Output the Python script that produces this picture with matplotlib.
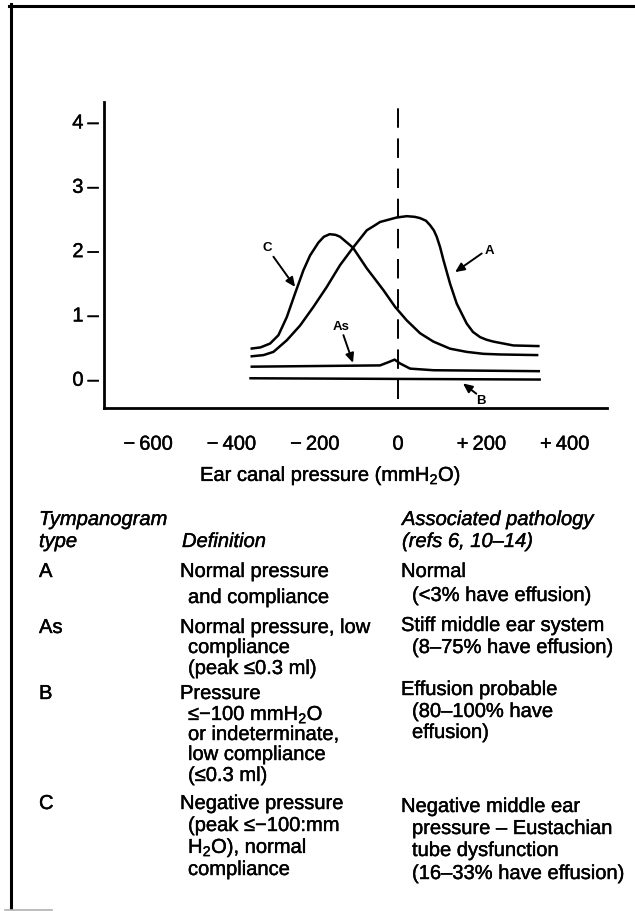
import numpy as np
import matplotlib.pyplot as plt
import matplotlib.patheffects as pe
from matplotlib.lines import Line2D

plt.rcParams['font.family'] = ['Liberation Sans', 'DejaVu Sans']
plt.rcParams['mathtext.fontset'] = 'custom'
plt.rcParams['mathtext.rm'] = 'Liberation Sans'
plt.rcParams['mathtext.it'] = 'Liberation Sans:italic'

W, H = 635, 911

# tympanogram curves: pressure (mmH2O), compliance (ml)
a_p = [-354, -323, -299, -267, -235, -203, -171, -139, -108, -75, -55, -43, -20, -3, 21, 40, 53, 67,
       77, 86, 93, 101, 109, 125, 141, 165, 180, 197, 212, 229, 277, 340]
a_c = [0.34, 0.36, 0.41, 0.59, 0.82, 1.11, 1.42, 1.76, 2.03, 2.30, 2.38, 2.43, 2.47, 2.50, 2.52, 2.51, 2.49, 2.45,
       2.38, 2.30, 2.20, 2.04, 1.84, 1.47, 1.16, 0.85, 0.72, 0.64, 0.60, 0.57, 0.51, 0.50]

c_p = [-354, -330, -307, -287, -267, -247, -227, -211, -191, -178, -164, -150, -139, -108, -75, -35, -7,
       21, 53, 85, 125, 165, 205, 245, 337]
c_c = [0.46, 0.48, 0.54, 0.67, 0.95, 1.32, 1.68, 1.91, 2.11, 2.20, 2.24, 2.23, 2.20, 2.03, 1.71, 1.37, 1.11,
       0.90, 0.70, 0.57, 0.46, 0.41, 0.38, 0.37, 0.36]

as_p = [-354, -200, -43, -23, -8, 5, 29, 85, 341]
as_c = [0.18, 0.19, 0.20, 0.25, 0.29, 0.23, 0.15, 0.125, 0.11]

b_p = [-357, 343]
b_c = [0.0, -0.02]

x_ticks = [-600, -400, -200, 0, 200, 400]
x_ticklabels = ['\u2212\u2009600', '\u2212\u2009400', '\u2212\u2009200', '0', '+\u2009200', '+\u2009400']
y_ticks = [0, 1, 2, 3, 4]
y_ticklabels = ['0\u2009\u2013', '1\u2009\u2013', '2\u2009\u2013', '3\u2009\u2013', '4\u2009\u2013']

# curve labels: (text, label pos, arrow tail, arrow head) in data units
curve_labels = [
    ('C', (-315, 2.02), (-299, 1.89), (-247, 1.42)),
    ('A', (219, 1.98), (201, 1.94), (137, 1.65)),
    ('As', (-137, 0.80), (-131, 0.67), (-108, 0.24)),
    ('B', (199, -0.35), (188, -0.24), (156, -0.08)),
]

# table
tymp_types = ['A', 'As', 'B', 'C']
definitions = [
    ['Normal pressure', 'and compliance'],
    ['Normal pressure, low', 'compliance', '(peak \u22640.3 ml)'],
    ['Pressure', '\u2264\u2212100 mmH$_2$O', 'or indeterminate,', 'low compliance', '(\u22640.3 ml)'],
    ['Negative pressure', '(peak \u2264\u2212100:mm', 'H$_2$O), normal', 'compliance'],
]
pathology = [
    ['Normal', '(<3% have effusion)'],
    ['Stiff middle ear system', '(8\u201375% have effusion)'],
    ['Effusion probable', '(80\u2013100% have', 'effusion)'],
    ['Negative middle ear', 'pressure \u2013 Eustachian', 'tube dysfunction', '(16\u201333% have effusion)'],
]

# baselines (pixels from top) for each table line
def_rows = [[577, 603], [633, 653, 674], [699, 720, 740, 760, 781], [809, 831, 853, 875]]
path_rows = [[577, 601], [631, 653], [695, 717, 738], [812, 834, 856, 879]]

ink = [pe.withStroke(linewidth=0.3, foreground='black')]

fig = plt.figure(figsize=(W / 100, H / 100), dpi=100)
ax = fig.add_axes([104.3 / W, 1 - 408.3 / H, 502.4 / W, 306.6 / H])

lw = 1.8
for px_, cy_ in [(a_p, a_c), (c_p, c_c), (as_p, as_c), (b_p, b_c)]:
    ax.plot(px_, cy_, color='black', lw=lw, solid_capstyle='butt', solid_joinstyle='round')

ax.set_xlim(-705, 501)
ax.set_ylim(-0.467, 4.30)
ylo, yhi = ax.get_ylim()
ax.axvline(0, ymin=(-0.316 - ylo) / (yhi - ylo), ymax=1, color='black', lw=1.4, dashes=(10, 5.5))

for txt, lp, tail, head in curve_labels:
    ax.annotate('', xy=head, xytext=tail,
                arrowprops=dict(arrowstyle='-|>,head_length=0.55,head_width=0.25', lw=1.4,
                                color='black', shrinkA=0, shrinkB=0, mutation_scale=10))
    ax.text(lp[0], lp[1], txt, fontsize=9.5, fontweight='bold', ha='center', va='center')

for s in ['top', 'right']:
    ax.spines[s].set_visible(False)
for s in ['left', 'bottom']:
    ax.spines[s].set_linewidth(2.0)

ax.set_xticks(x_ticks)
ax.set_xticklabels(x_ticklabels, fontsize=14.5)
ax.set_yticks(y_ticks)
ax.set_yticklabels(y_ticklabels, fontsize=14.5)
ax.tick_params(axis='x', length=0, pad=19)
ax.tick_params(axis='y', length=0, pad=4)
for lab in ax.get_xticklabels() + ax.get_yticklabels():
    lab.set_path_effects(ink)


def ftext(x, y, s, **kw):
    fig.text(x / W, 1 - y / H, s, va='baseline', ha='left', fontsize=14.5, path_effects=ink, **kw)


ftext(200, 481, 'Ear canal pressure (mmH$_2$O)')

ftext(39, 525, 'Tympanogram', style='italic')
ftext(39, 547, 'type', style='italic')
ftext(182, 547, 'Definition', style='italic')
ftext(402, 525, 'Associated pathology', style='italic')
ftext(402, 547, '(refs 6, 10\u201314)', style='italic')

for i, t in enumerate(tymp_types):
    ftext(39, def_rows[i][0], t)
    for j, line in enumerate(definitions[i]):
        ftext(180 if j == 0 else 188, def_rows[i][j], line)
    for j, line in enumerate(pathology[i]):
        ftext(401 if j == 0 else 412, path_rows[i][j], line)

# page frame
fig.add_artist(Line2D([9 / W, 1], [1 - 5.5 / H] * 2, color='black', lw=2.2))
fig.add_artist(Line2D([10.5 / W] * 2, [1 - 4 / H, 1 - 908 / H], color='black', lw=2.2))
fig.add_artist(Line2D([5 / W, 52 / W], [1 - 909.5 / H] * 2, color='#b0b0b0', lw=1.2))

fig.savefig('out.png', dpi=100)
